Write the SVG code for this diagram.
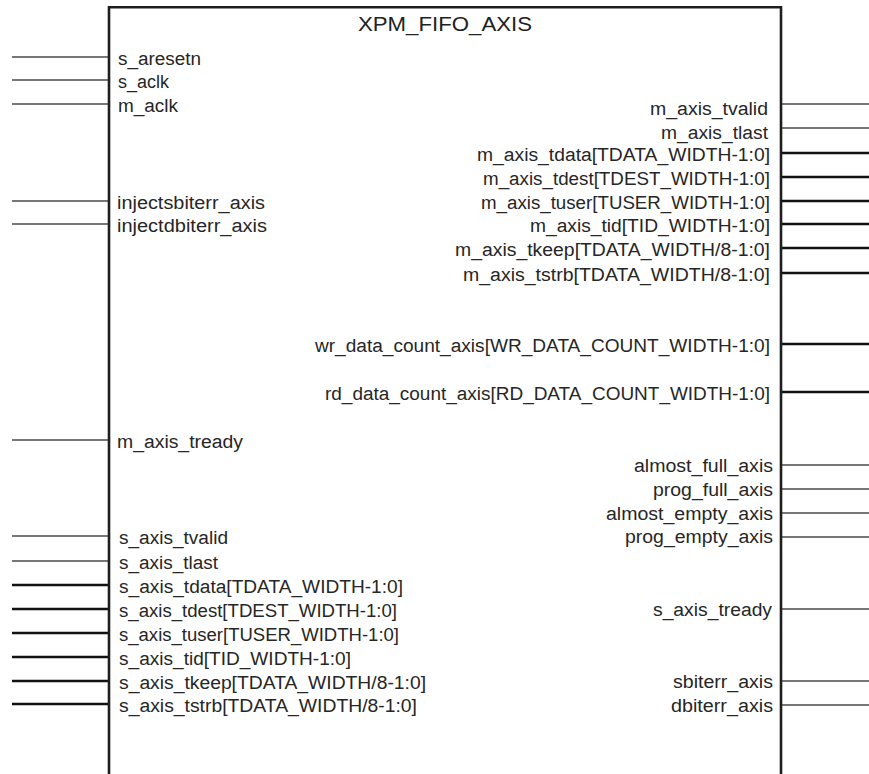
<svg xmlns="http://www.w3.org/2000/svg" width="869" height="774" viewBox="0 0 869 774">
<style>
  .bg { fill: #ffffff; }
  .box { fill: none; stroke: #1e1e1e; stroke-width: 2.6; }
  .title { font-family: "Liberation Sans", Arial, sans-serif; font-size: 21px; fill: #222222; }
  .lbl { font-family: "Liberation Sans", Arial, sans-serif; font-size: 18px; fill: #262626; }
  .l { text-anchor: start; }
  .r { text-anchor: end; }
  .sig { stroke: #4a4a4a; stroke-width: 1.6; fill: none; }
  .bus { stroke: #111111; stroke-width: 2.6; fill: none; }
</style>
<rect class="bg" x="0" y="0" width="869" height="774"/>

<g id="connectors">
  <!-- left inputs -->
  <line class="sig" x1="12" y1="57" x2="109" y2="57"/>
  <line class="sig" x1="12" y1="80" x2="109" y2="80"/>
  <line class="sig" x1="12" y1="104" x2="109" y2="104"/>
  <line class="sig" x1="12" y1="201" x2="109" y2="201"/>
  <line class="sig" x1="12" y1="224" x2="109" y2="224"/>
  <line class="sig" x1="12" y1="440" x2="109" y2="440"/>
  <line class="sig" x1="12" y1="536" x2="109" y2="536"/>
  <line class="sig" x1="12" y1="561" x2="109" y2="561"/>
  <line class="bus" x1="12" y1="585" x2="109" y2="585"/>
  <line class="bus" x1="12" y1="609" x2="109" y2="609"/>
  <line class="bus" x1="12" y1="633" x2="109" y2="633"/>
  <line class="bus" x1="12" y1="657" x2="109" y2="657"/>
  <line class="bus" x1="12" y1="681" x2="109" y2="681"/>
  <line class="bus" x1="12" y1="704" x2="109" y2="704"/>
  <!-- right outputs -->
  <line class="sig" x1="781" y1="104" x2="869" y2="104"/>
  <line class="sig" x1="781" y1="128" x2="869" y2="128"/>
  <line class="bus" x1="781" y1="153" x2="869" y2="153"/>
  <line class="bus" x1="781" y1="177" x2="869" y2="177"/>
  <line class="bus" x1="781" y1="201" x2="869" y2="201"/>
  <line class="bus" x1="781" y1="224" x2="869" y2="224"/>
  <line class="bus" x1="781" y1="248" x2="869" y2="248"/>
  <line class="bus" x1="781" y1="273" x2="869" y2="273"/>
  <line class="bus" x1="781" y1="344" x2="869" y2="344"/>
  <line class="bus" x1="781" y1="392" x2="869" y2="392"/>
  <line class="sig" x1="781" y1="465" x2="869" y2="465"/>
  <line class="sig" x1="781" y1="489" x2="869" y2="489"/>
  <line class="sig" x1="781" y1="513" x2="869" y2="513"/>
  <line class="sig" x1="781" y1="537" x2="869" y2="537"/>
  <line class="sig" x1="781" y1="609" x2="869" y2="609"/>
  <line class="sig" x1="781" y1="681" x2="869" y2="681"/>
  <line class="sig" x1="781" y1="705" x2="869" y2="705"/>
</g>

<g id="xpm_fifo_axis">
  <path class="box" d="M109,775 V7.3 H781 V775"/>
  <text class="title" x="358" y="30.5" textLength="174" lengthAdjust="spacingAndGlyphs">XPM_FIFO_AXIS</text>

  <g id="left-ports">
    <text class="lbl l" x="118" y="64.5" textLength="83" lengthAdjust="spacingAndGlyphs">s_aresetn</text>
    <text class="lbl l" x="118" y="87.5" textLength="51" lengthAdjust="spacingAndGlyphs">s_aclk</text>
    <text class="lbl l" x="118" y="111.5" textLength="60" lengthAdjust="spacingAndGlyphs">m_aclk</text>
    <text class="lbl l" x="117" y="208.5" textLength="148" lengthAdjust="spacingAndGlyphs">injectsbiterr_axis</text>
    <text class="lbl l" x="117" y="231.5" textLength="150" lengthAdjust="spacingAndGlyphs">injectdbiterr_axis</text>
    <text class="lbl l" x="117" y="447.5" textLength="126" lengthAdjust="spacingAndGlyphs">m_axis_tready</text>
    <text class="lbl l" x="119" y="543.5" textLength="109" lengthAdjust="spacingAndGlyphs">s_axis_tvalid</text>
    <text class="lbl l" x="119" y="568.5" textLength="99" lengthAdjust="spacingAndGlyphs">s_axis_tlast</text>
    <text class="lbl l" x="119" y="592.5" textLength="284" lengthAdjust="spacingAndGlyphs">s_axis_tdata[TDATA_WIDTH-1:0]</text>
    <text class="lbl l" x="119" y="616.5" textLength="278" lengthAdjust="spacingAndGlyphs">s_axis_tdest[TDEST_WIDTH-1:0]</text>
    <text class="lbl l" x="119" y="640.5" textLength="280" lengthAdjust="spacingAndGlyphs">s_axis_tuser[TUSER_WIDTH-1:0]</text>
    <text class="lbl l" x="119" y="664.5" textLength="232" lengthAdjust="spacingAndGlyphs">s_axis_tid[TID_WIDTH-1:0]</text>
    <text class="lbl l" x="119" y="688.5" textLength="307" lengthAdjust="spacingAndGlyphs">s_axis_tkeep[TDATA_WIDTH/8-1:0]</text>
    <text class="lbl l" x="119" y="711.5" textLength="298" lengthAdjust="spacingAndGlyphs">s_axis_tstrb[TDATA_WIDTH/8-1:0]</text>
  </g>

  <g id="right-ports">
    <text class="lbl r" x="768" y="114.5" textLength="118" lengthAdjust="spacingAndGlyphs">m_axis_tvalid</text>
    <text class="lbl r" x="768" y="138.5" textLength="107" lengthAdjust="spacingAndGlyphs">m_axis_tlast</text>
    <text class="lbl r" x="770" y="161" textLength="293" lengthAdjust="spacingAndGlyphs">m_axis_tdata[TDATA_WIDTH-1:0]</text>
    <text class="lbl r" x="770" y="185" textLength="287" lengthAdjust="spacingAndGlyphs">m_axis_tdest[TDEST_WIDTH-1:0]</text>
    <text class="lbl r" x="770" y="208.5" textLength="289" lengthAdjust="spacingAndGlyphs">m_axis_tuser[TUSER_WIDTH-1:0]</text>
    <text class="lbl r" x="770" y="232" textLength="240" lengthAdjust="spacingAndGlyphs">m_axis_tid[TID_WIDTH-1:0]</text>
    <text class="lbl r" x="770" y="256" textLength="315" lengthAdjust="spacingAndGlyphs">m_axis_tkeep[TDATA_WIDTH/8-1:0]</text>
    <text class="lbl r" x="770" y="280.5" textLength="307" lengthAdjust="spacingAndGlyphs">m_axis_tstrb[TDATA_WIDTH/8-1:0]</text>
    <text class="lbl r" x="770" y="352" textLength="455" lengthAdjust="spacingAndGlyphs">wr_data_count_axis[WR_DATA_COUNT_WIDTH-1:0]</text>
    <text class="lbl r" x="770" y="400" textLength="445" lengthAdjust="spacingAndGlyphs">rd_data_count_axis[RD_DATA_COUNT_WIDTH-1:0]</text>
    <text class="lbl r" x="773" y="472" textLength="139" lengthAdjust="spacingAndGlyphs">almost_full_axis</text>
    <text class="lbl r" x="773" y="496" textLength="120" lengthAdjust="spacingAndGlyphs">prog_full_axis</text>
    <text class="lbl r" x="773" y="519.5" textLength="167" lengthAdjust="spacingAndGlyphs">almost_empty_axis</text>
    <text class="lbl r" x="773" y="543" textLength="148" lengthAdjust="spacingAndGlyphs">prog_empty_axis</text>
    <text class="lbl r" x="772" y="616" textLength="119" lengthAdjust="spacingAndGlyphs">s_axis_tready</text>
    <text class="lbl r" x="773" y="688" textLength="100" lengthAdjust="spacingAndGlyphs">sbiterr_axis</text>
    <text class="lbl r" x="773" y="712" textLength="102" lengthAdjust="spacingAndGlyphs">dbiterr_axis</text>
  </g>
</g>
</svg>
